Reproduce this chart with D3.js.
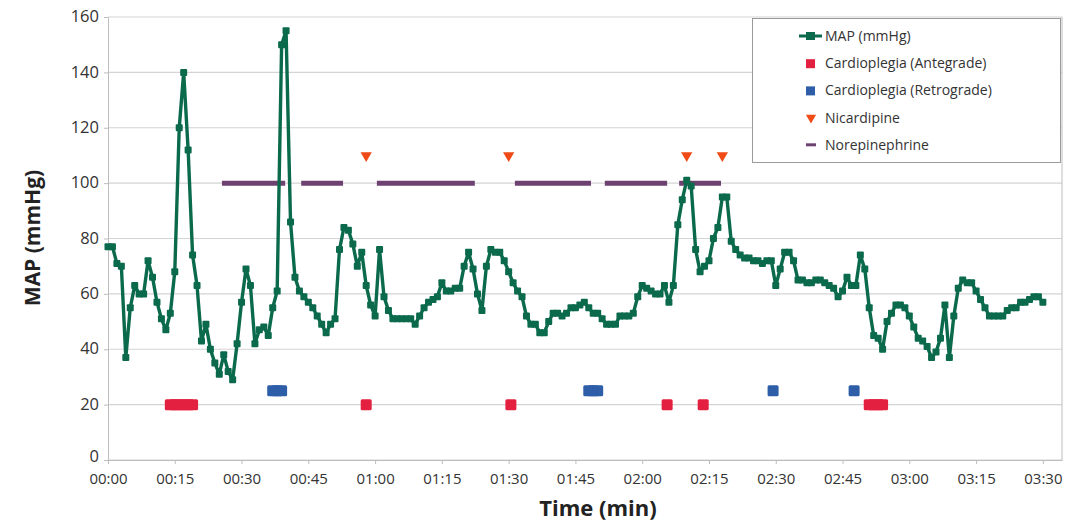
<!DOCTYPE html>
<html>
<head>
<meta charset="utf-8">
<script src="https://cdn.jsdelivr.net/npm/d3@7"></script>
<style>
  body { margin: 0; background: #fff; }
  svg { font-family: "Open Sans", "Noto Sans", sans-serif; }
</style>
</head>
<body>
<svg id="chart" width="1070" height="523"></svg>
<script>
// MAP readings, one per minute starting at 00:00
const mapValues = [
  77, 77, 71, 70, 37, 55, 63, 60, 60, 72, 66, 57, 51, 47, 53, 68, 120, 140, 112, 74,
  63, 43, 49, 40, 35, 31, 38, 32, 29, 42, 57, 69, 63, 42, 47, 48, 45, 55, 61, 150,
  155, 86, 66, 61, 59, 57, 55, 52, 49, 46, 49, 51, 76, 84, 83, 78, 70, 75, 63, 56,
  52, 76, 59, 54, 51, 51, 51, 51, 51, 49, 52, 55, 57, 58, 59, 64, 61, 61, 62, 62,
  70, 75, 69, 60, 54, 70, 76, 75, 75, 72, 68, 64, 61, 59, 52, 49, 49, 46, 46, 50,
  53, 53, 52, 53, 55, 55, 56, 57, 55, 53, 53, 51, 49, 49, 49, 52, 52, 52, 53, 59,
  63, 62, 61, 60, 60, 63, 57, 63, 85, 94, 101, 99, 76, 68, 70, 72, 80, 84, 95, 95,
  79, 76, 74, 73, 73, 72, 72, 71, 72, 72, 63, 69, 75, 75, 72, 65, 65, 64, 64, 65,
  65, 64, 63, 62, 59, 61, 66, 63, 63, 74, 69, 55, 45, 44, 40, 50, 53, 56, 56, 55,
  52, 48, 44, 43, 41, 37, 39, 44, 56, 37, 52, 62, 65, 64, 64, 61, 58, 55, 52, 52,
  52, 52, 54, 55, 55, 57, 57, 58, 59, 59, 57
];

// event times in minutes
const antegradeTimes = [14, 15, 16, 17, 18, 19, 58, 90.5, 125.6, 133.7, 171, 172, 173, 174];
const retrogradeTimes = [37, 38, 39, 108, 109, 110, 149.4, 167.6];
const nicardipineTimes = [58, 90, 130, 138];
const norepinephrineSpans = [[25.6, 39.8], [43.4, 52.8], [60.4, 82.4], [91.4, 108.5], [111.6, 125.6], [128.3, 137.7]];

const antegradeLevel = 20;
const retrogradeLevel = 25;
const nicardipineLevel = 110;
const norepinephrineLevel = 100;

const xTicks = [0, 15, 30, 45, 60, 75, 90, 105, 120, 135, 150, 165, 180, 195, 210];
const yTicks = [0, 20, 40, 60, 80, 100, 120, 140, 160];

const legendItems = ['MAP (mmHg)', 'Cardioplegia (Antegrade)', 'Cardioplegia (Retrograde)', 'Nicardipine', 'Norepinephrine'];

const colors = {
  map: '#0b6a4c',
  antegrade: '#e3203f',
  retrograde: '#2e5ea8',
  nicardipine: '#f04a16',
  norepinephrine: '#6e4270',
  grid: '#d4d4d4',
  axis: '#bdbdbd',
  text: '#333'
};

const svg = d3.select('#chart');

const x = d3.scaleLinear().domain([0, 214.3]).range([108, 1062]);
const y = d3.scaleLinear().domain([0, 160]).range([460, 17]);

// grid
svg.append('g')
  .selectAll('line')
  .data(yTicks)
  .join('line')
  .attr('x1', x.range()[0])
  .attr('x2', x.range()[1])
  .attr('y1', (d) => y(d))
  .attr('y2', (d) => y(d))
  .attr('stroke', colors.grid)
  .attr('stroke-width', 1.2);

// frame on the right
svg.append('line')
  .attr('x1', x.range()[1]).attr('x2', x.range()[1])
  .attr('y1', y(160)).attr('y2', y(0))
  .attr('stroke', colors.axis);

const fmt = (m) => `${String(Math.floor(m / 60)).padStart(2, '0')}:${String(m % 60).padStart(2, '0')}`;

const xAxis = svg.append('g')
  .attr('transform', `translate(0,${y(0)})`)
  .call(d3.axisBottom(x).tickValues(xTicks).tickFormat(fmt).tickSize(4).tickSizeOuter(0).tickPadding(7));

const yAxis = svg.append('g')
  .attr('transform', `translate(${x(0)},0)`)
  .call(d3.axisLeft(y).tickValues(yTicks).tickSize(4).tickSizeOuter(0).tickPadding(5));

[xAxis, yAxis].forEach((g) => {
  g.select('.domain').attr('stroke', colors.axis);
  g.selectAll('.tick line').attr('stroke', colors.axis);
  g.selectAll('.tick text').attr('fill', colors.text).attr('font-family', '"Open Sans", sans-serif');
});
xAxis.selectAll('.tick text').attr('font-size', 15).attr('dy', '0.85em');
yAxis.selectAll('.tick text').attr('font-size', 16.5)
  .attr('dy', (d) => (d === 0 ? '0.1em' : '0.28em'));

// axis titles
svg.append('text')
  .attr('x', 598).attr('y', 516)
  .attr('text-anchor', 'middle')
  .attr('font-size', 22).attr('font-weight', 'bold')
  .attr('fill', '#222')
  .text('Time (min)');

svg.append('text')
  .attr('transform', 'translate(40,238) rotate(-90)')
  .attr('text-anchor', 'middle')
  .attr('font-size', 21).attr('font-weight', 'bold')
  .attr('fill', '#222')
  .text('MAP (mmHg)');

// norepinephrine bars
svg.append('g')
  .selectAll('line')
  .data(norepinephrineSpans)
  .join('line')
  .attr('x1', (d) => x(d[0]))
  .attr('x2', (d) => x(d[1]))
  .attr('y1', y(norepinephrineLevel))
  .attr('y2', y(norepinephrineLevel))
  .attr('stroke', colors.norepinephrine)
  .attr('stroke-width', 5);

// cardioplegia squares
const sq = 11;
svg.append('g')
  .selectAll('rect')
  .data(antegradeTimes)
  .join('rect')
  .attr('x', (d) => x(d) - sq / 2)
  .attr('y', y(antegradeLevel) - sq / 2)
  .attr('width', sq).attr('height', sq)
  .attr('rx', 1.5)
  .attr('fill', colors.antegrade);

svg.append('g')
  .selectAll('rect')
  .data(retrogradeTimes)
  .join('rect')
  .attr('x', (d) => x(d) - sq / 2)
  .attr('y', y(retrogradeLevel) - sq / 2)
  .attr('width', sq).attr('height', sq)
  .attr('rx', 1.5)
  .attr('fill', colors.retrograde);

// nicardipine triangles
const tri = d3.symbol().type(d3.symbolTriangle).size(55);
svg.append('g')
  .selectAll('path')
  .data(nicardipineTimes)
  .join('path')
  .attr('d', tri)
  .attr('transform', (d) => `translate(${x(d)},${y(nicardipineLevel)}) rotate(180)`)
  .attr('fill', colors.nicardipine);

// MAP line
const mapPoints = mapValues.map((v, i) => ({ t: i, v }));
svg.append('path')
  .datum(mapPoints)
  .attr('d', d3.line().x((d) => x(d.t)).y((d) => y(d.v)))
  .attr('fill', 'none')
  .attr('stroke', colors.map)
  .attr('stroke-width', 3.4)
  .attr('stroke-linejoin', 'round');

const ms = 7;
svg.append('g')
  .selectAll('rect')
  .data(mapPoints)
  .join('rect')
  .attr('x', (d) => x(d.t) - ms / 2)
  .attr('y', (d) => y(d.v) - ms / 2)
  .attr('width', ms).attr('height', ms)
  .attr('rx', 1)
  .attr('fill', colors.map);

// legend
const legend = svg.append('g');
legend.append('rect')
  .attr('x', 752.5).attr('y', 18.5)
  .attr('width', 308).attr('height', 144)
  .attr('fill', '#fff')
  .attr('stroke', '#9a9a9a');

const rowY = (i) => 36 + i * 27.2;
legend.selectAll('text')
  .data(legendItems)
  .join('text')
  .attr('x', 825)
  .attr('y', (d, i) => rowY(i))
  .attr('dy', '0.35em')
  .attr('font-size', 14)
  .attr('fill', colors.text)
  .text((d) => d);

legend.append('line')
  .attr('x1', 799).attr('x2', 822)
  .attr('y1', rowY(0)).attr('y2', rowY(0))
  .attr('stroke', colors.map).attr('stroke-width', 3);
legend.append('rect')
  .attr('x', 806).attr('y', rowY(0) - 4).attr('width', 9).attr('height', 8)
  .attr('fill', colors.map);
legend.append('rect')
  .attr('x', 806).attr('y', rowY(1) - 4).attr('width', 9).attr('height', 9)
  .attr('fill', colors.antegrade);
legend.append('rect')
  .attr('x', 806).attr('y', rowY(2) - 4).attr('width', 9).attr('height', 9)
  .attr('fill', colors.retrograde);
legend.append('path')
  .attr('d', d3.symbol().type(d3.symbolTriangle).size(45))
  .attr('transform', `translate(811,${rowY(3)}) rotate(180)`)
  .attr('fill', colors.nicardipine);
legend.append('line')
  .attr('x1', 806).attr('x2', 816)
  .attr('y1', rowY(4)).attr('y2', rowY(4))
  .attr('stroke', colors.norepinephrine).attr('stroke-width', 3);
</script>
</body>
</html>
